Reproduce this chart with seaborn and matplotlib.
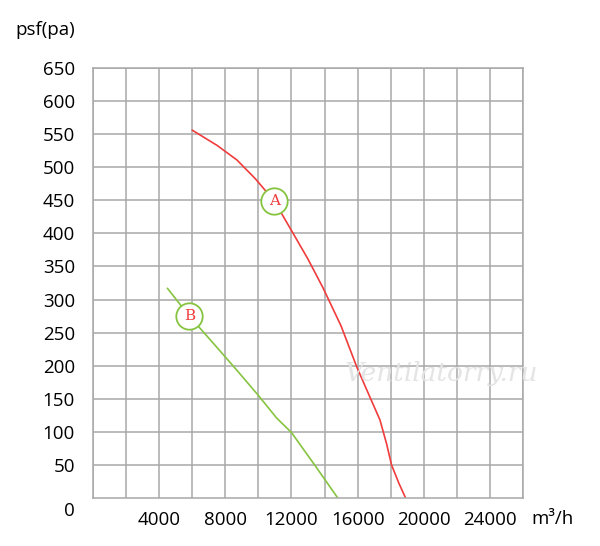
import numpy as np
import pandas as pd
import seaborn as sns
import matplotlib.pyplot as plt

# curve A (red) and curve B (green)
flow_a = [6000, 7500, 8700, 9800, 10960, 12100, 13000, 13900, 15000, 15950,
          16700, 17350, 17750, 18050, 18500, 18900]
pres_a = [556, 533, 511, 483, 449, 400, 361, 318, 260, 198,
          155, 118, 82, 50, 22, 0]
flow_b = [4500, 5820, 7200, 8600, 10000, 11100, 12000, 13400, 14800]
pres_b = [317, 275, 236, 196, 155, 121, 99, 50, 0]

x_ticks = [4000, 8000, 12000, 16000, 20000, 24000]
y_ticks = [50, 100, 150, 200, 250, 300, 350, 400, 450, 500, 550, 600, 650]

# label circles (curve, x, y)
marks = [("A", 10960, 449), ("B", 5820, 275)]

df = pd.concat([
    pd.DataFrame({"flow": flow_a, "pres": pres_a, "curve": "A"}),
    pd.DataFrame({"flow": flow_b, "pres": pres_b, "curve": "B"}),
])

sns.set_style("white")
plt.rcParams["font.family"] = ["Open Sans", "DejaVu Sans"]
plt.rcParams["text.color"] = "black"
plt.rcParams["xtick.color"] = "black"
plt.rcParams["ytick.color"] = "black"

fig = plt.figure(figsize=(6, 5.46), dpi=100)
ax = fig.add_axes([0.155, 0.0879, 0.7167, 0.7876])

sns.lineplot(data=df, x="flow", y="pres", hue="curve", sort=False,
             palette={"A": "#f03c3c", "B": "#86c440"}, linewidth=1.2,
             legend=False, ax=ax)

ax.set_xlim(0, 26000)
ax.set_ylim(0, 650)
ax.set_xticks(np.arange(0, 26001, 2000), minor=True)
ax.set_xticks(x_ticks)
ax.set_yticks(y_ticks)
ax.set_xticklabels([str(v) for v in x_ticks], fontsize=13.5)
ax.set_yticklabels([str(v) for v in y_ticks], fontsize=13.5)
ax.grid(True, which="both", color="#a8a8a8", linewidth=1.1)
ax.tick_params(length=0, pad=9)
ax.tick_params(axis="y", pad=13)
for s in ax.spines.values():
    s.set_color("#a8a8a8")
    s.set_linewidth(1.1)
ax.set_xlabel("")
ax.set_ylabel("")

for name, x, y in marks:
    ax.plot(x, y, "o", markersize=19, markerfacecolor="white",
            markeredgecolor="#86c440", markeredgewidth=1.3, zorder=5)
    ax.text(x, y, name, color="#f03c3c", fontsize=11, family="serif",
            ha="center", va="center", zorder=6)

fig.text(0.025, 0.945, "psf(pa)", fontsize=13.5, ha="left", va="center")
fig.text(0.115, 0.065, "0", fontsize=13.5, ha="center", va="center")
fig.text(0.885, 0.049, "m³/h", fontsize=13.5, ha="left", va="center")
ax.text(0.81, 0.29, "Ventilatorry.ru", transform=ax.transAxes,
        fontsize=19, style="italic", family="serif", color="#e4e4e4",
        ha="center", va="center", zorder=7)

fig.savefig("out.png", dpi=100)
